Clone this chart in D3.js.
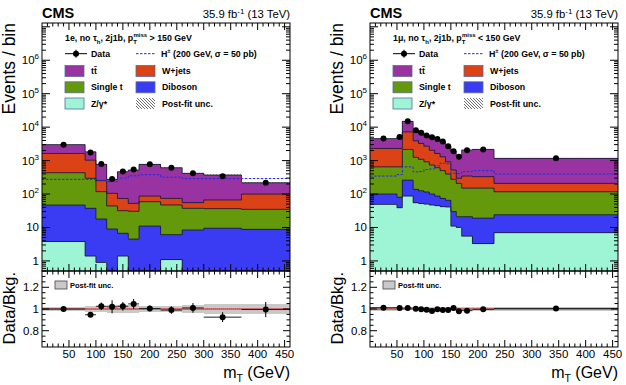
<!DOCTYPE html>
<html>
<head>
<meta charset="utf-8">
<script src="https://cdn.jsdelivr.net/npm/d3@7"></script>
<style>
body { margin: 0; background: #fff; }
text { font-family: "Liberation Sans", Arial, Helvetica, sans-serif; }
</style>
</head>
<body>
<svg id="vis" width="626" height="385"></svg>
<script>
// ---- left: 1e, no tau_h, 2j1b, MET > 150 GeV ----
var edgesE = [0, 80, 100, 120, 140, 160, 180, 220, 260, 300, 370, 460];
var zE    = [3.8, 1.4, 0.9, 0, 1.4, 0, 0, 1.1, 0, 0, 0];
var vvE   = [43, 36, 17, 9, 5.3, 4.5, 11, 5, 8.4, 9.5, 8.8];
var stE   = [387, 258, 100, 35, 25, 26, 48, 41, 29, 27, 26];
var wjE   = [1200, 735, 133, 61, 42, 22, 28, 27, 18, 30, 65];
var ttE   = [1370, 800, 520, 170, 391, 467, 683, 538, 360, 304, 118];
var dataE = [3000, 1740, 790, 280, 475, 545, 775, 606, 420, 342, 217];
var sigE  = [275, 275, 260, 235, 300, 350, 380, 320, 290, 290, 290];
var ratioE    = [1.0, 0.947, 1.025, 1.02, 1.025, 1.047, 1.005, 0.99, 1.01, 0.925, 0.995];
var ratioErrE = [0.01, 0.015, 0.035, 0.06, 0.04, 0.045, 0.025, 0.035, 0.045, 0.045, 0.07];
var uncE      = [0.02, 0.025, 0.03, 0.04, 0.04, 0.035, 0.03, 0.03, 0.035, 0.045, 0.045];

// ---- right: 1mu, no tau_h, 2j1b, MET < 150 GeV ----
var edgesM = [0, 50, 60, 80, 90, 100, 110, 120, 130, 140, 150, 160, 170, 190, 230, 460];
var zM    = [49, 39, 87, 55, 52, 50, 47, 45, 42, 41, 11, 10, 5.5, 3.3, 7];
var vvM   = [51, 41, 173, 83, 73, 65, 53, 42, 32, 24, 19, 11, 15.5, 15.7, 17];
var stM   = [550, 570, 1890, 1110, 965, 805, 635, 525, 426, 330, 245, 187, 129, 131, 93];
var wjM   = [1650, 1650, 5050, 2650, 2160, 1780, 1305, 1020, 800, 525, 245, 87, 195, 180, 91];
var ttM   = [2250, 2750, 7670, 4180, 3520, 2980, 3050, 2780, 2430, 1800, 1360, 1030, 1725, 1830, 956];
var dataM = [4600, 5100, 15000, 8100, 6750, 5650, 5000, 4400, 3700, 2700, 1900, 1300, 2040, 2150, 1170];
var sigM  = [345, 380, 650, 460, 470, 540, 560, 700, 830, 800, 420, 410, 470, 500, 395];
var ratioM    = [1.012, 1.009, 1.009, 1.003, 0.997, 0.994, 0.982, 0.997, 0.991, 0.991, 1.009, 0.979, 0.985, 0.997, 1.005];
var ratioErrM = [0.006, 0.006, 0.004, 0.005, 0.005, 0.006, 0.006, 0.006, 0.007, 0.008, 0.01, 0.012, 0.01, 0.01, 0.012];
var uncM      = [0.015, 0.015, 0.012, 0.013, 0.013, 0.013, 0.014, 0.014, 0.015, 0.015, 0.016, 0.018, 0.016, 0.016, 0.02];

// axis ticks / labels
var xTickLabels = [50, 100, 150, 200, 250, 300, 350, 400, 450];
var logTickExps = [0, 1, 2, 3, 4, 5, 6];
var ratioTickLabels = [0.8, 1, 1.2];

var keys = ["z", "vv", "st", "wj", "tt"];
var colors = { z: "#9ef5d6", vv: "#3a3cf4", st: "#65990c", wj: "#db4216", tt: "#9a33a2" };

var svg = d3.select("#vis");
var W = 248, yTop = 23, yMid = 271, yBot = 347;

// hatch pattern for post-fit unc.
var defs = svg.append("defs");
defs.append("pattern").attr("id", "hatch").attr("patternUnits", "userSpaceOnUse")
    .attr("width", 3).attr("height", 3)
  .append("path").attr("d", "M-1,-1 L4,4 M-1,2 L1,4 M2,-1 L4,1")
    .attr("stroke", "#333").attr("stroke-width", 0.7);

function rich(sel, parts) {
  parts.forEach(function(p) {
    var t = sel.append("tspan").text(p.t);
    if (p.dx) t.attr("dx", p.dx);
    if (p.dy) t.attr("dy", p.dy);
    if (p.fs) t.attr("font-size", p.fs);
  });
  return sel;
}

function drawPanel(x0, cfg) {
  var x = d3.scaleLinear().domain([0, 460]).range([x0, x0 + W]);
  var y = d3.scaleLog().domain([0.5, 1.3e7]).range([yMid, yTop]);
  var yr = d3.scaleLinear().domain([0.65, 1.35]).range([yBot, yMid]);
  var g = svg.append("g");
  var cy = function(v) { return y(Math.max(v, 0.5)); };

  var clipId = "clip" + x0;
  defs.append("clipPath").attr("id", clipId)
    .append("rect").attr("x", x0).attr("y", yTop).attr("width", W).attr("height", yMid - yTop);

  var rows = cfg.edges.slice(0, -1).map(function(e, i) {
    var r = { lo: e, hi: cfg.edges[i + 1], data: cfg.data[i], sig: cfg.sig[i] };
    keys.forEach(function(k) { r[k] = cfg.series[k][i]; });
    return r;
  });
  var stacked = d3.stack().keys(keys)(rows);

  var main = g.append("g").attr("clip-path", "url(#" + clipId + ")");
  stacked.forEach(function(layer) {
    main.selectAll(null).data(layer).enter().append("rect")
      .attr("x", function(d) { return x(d.data.lo); })
      .attr("width", function(d) { return x(d.data.hi) - x(d.data.lo); })
      .attr("y", function(d) { return cy(d[1]); })
      .attr("height", function(d) { return Math.max(0, cy(d[0]) - cy(d[1])); })
      .attr("fill", colors[layer.key])
      .attr("shape-rendering", "crispEdges");
  });

  var step = d3.line().curve(d3.curveStepAfter);
  stacked.forEach(function(layer) {
    var pts = layer.map(function(d) { return [x(d.data.lo), cy(d[1])]; });
    pts.push([x(460), cy(layer[layer.length - 1][1])]);
    main.append("path").attr("d", step(pts))
      .attr("fill", "none").attr("stroke", "#1c1c3a").attr("stroke-width", 0.9);
  });

  // post-fit unc. hatch on total
  var top = stacked[stacked.length - 1];
  main.selectAll(null).data(top).enter().append("rect")
    .attr("x", function(d) { return x(d.data.lo); })
    .attr("width", function(d) { return x(d.data.hi) - x(d.data.lo); })
    .attr("y", function(d, i) { return cy(d[1] * (1 + cfg.unc[i])); })
    .attr("height", function(d, i) { return cy(d[1] * (1 - cfg.unc[i])) - cy(d[1] * (1 + cfg.unc[i])); })
    .attr("fill", "url(#hatch)");

  // signal
  var spts = rows.map(function(r) { return [x(r.lo), y(r.sig)]; });
  spts.push([x(460), y(rows[rows.length - 1].sig)]);
  main.append("path").attr("d", step(spts))
    .attr("fill", "none").attr("stroke", "#2b2bd8").attr("stroke-width", 1)
    .attr("stroke-dasharray", "2.5,1.5");

  // data
  main.selectAll(null).data(rows).enter().append("circle")
    .attr("cx", function(d) { return x((d.lo + d.hi) / 2); })
    .attr("cy", function(d) { return y(d.data); })
    .attr("r", 3).attr("fill", "#000");

  // frames
  g.append("rect").attr("x", x0).attr("y", yTop).attr("width", W).attr("height", yMid - yTop)
    .attr("fill", "none").attr("stroke", "#000").attr("stroke-width", 1);

  // ---- ratio panel ----
  var rg = g.append("g");
  rg.selectAll(null).data(rows).enter().append("rect")
    .attr("x", function(d) { return x(d.lo); })
    .attr("width", function(d) { return x(d.hi) - x(d.lo); })
    .attr("y", function(d, i) { return yr(1 + cfg.unc[i]); })
    .attr("height", function(d, i) { return yr(1 - cfg.unc[i]) - yr(1 + cfg.unc[i]); })
    .attr("fill", "#c9c9c9").attr("shape-rendering", "crispEdges");
  rg.append("line").attr("x1", x0).attr("x2", x0 + W).attr("y1", yr(1)).attr("y2", yr(1))
    .attr("stroke", "#8b1a1a").attr("stroke-width", 1);
  rg.append("line").attr("x1", x0).attr("x2", x0 + W).attr("y1", yr(1)).attr("y2", yr(1))
    .attr("stroke", "#ff7070").attr("stroke-width", 1).attr("stroke-dasharray", "1,1");

  var pts = rows.map(function(r, i) {
    return { lo: r.lo, hi: r.hi, v: cfg.ratio[i], e: cfg.ratioErr[i] };
  });
  rg.selectAll(null).data(pts).enter().append("line")
    .attr("x1", function(d) { return x(d.lo); }).attr("x2", function(d) { return x(d.hi); })
    .attr("y1", function(d) { return yr(d.v); }).attr("y2", function(d) { return yr(d.v); })
    .attr("stroke", "#222").attr("stroke-width", 1);
  rg.selectAll(null).data(pts).enter().append("line")
    .attr("x1", function(d) { return x((d.lo + d.hi) / 2); }).attr("x2", function(d) { return x((d.lo + d.hi) / 2); })
    .attr("y1", function(d) { return yr(d.v - d.e); }).attr("y2", function(d) { return yr(d.v + d.e); })
    .attr("stroke", "#000").attr("stroke-width", 1);
  rg.selectAll(null).data(pts).enter().append("circle")
    .attr("cx", function(d) { return x((d.lo + d.hi) / 2); })
    .attr("cy", function(d) { return yr(d.v); })
    .attr("r", 3).attr("fill", "#000");

  g.append("rect").attr("x", x0).attr("y", yMid).attr("width", W).attr("height", yBot - yMid)
    .attr("fill", "none").attr("stroke", "#000").attr("stroke-width", 1);

  // ratio legend
  rg.append("rect").attr("x", x0 + 13).attr("y", 281).attr("width", 12).attr("height", 8)
    .attr("fill", "#c9c9c9").attr("stroke", "#444").attr("stroke-width", 0.8);
  rg.append("text").attr("x", x0 + 28).attr("y", 288).attr("font-size", 7.5)
    .attr("font-weight", "bold").text("Post-fit unc.");

  // ---- ticks ----
  var tk = g.append("g").attr("stroke", "#000").attr("stroke-width", 1);
  function xTicks(yEdgeA, yEdgeB) {
    for (var v = 10; v < 460; v += 10) {
      var len = (v % 50 === 0) ? 7 : 3.5;
      var px = x(v);
      tk.append("line").attr("x1", px).attr("x2", px).attr("y1", yEdgeA).attr("y2", yEdgeA - len);
      tk.append("line").attr("x1", px).attr("x2", px).attr("y1", yEdgeB).attr("y2", yEdgeB + len);
    }
  }
  xTicks(yMid, yTop);
  xTicks(yBot, yMid);

  for (var k = -1; k <= 7; k++) {
    for (var j = 1; j <= 9; j++) {
      var v = j * Math.pow(10, k);
      if (v < 0.5 || v > 1.3e7) continue;
      var len = j === 1 ? 8 : 4;
      var py = y(v);
      tk.append("line").attr("x1", x0).attr("x2", x0 + len).attr("y1", py).attr("y2", py);
      tk.append("line").attr("x1", x0 + W).attr("x2", x0 + W - len).attr("y1", py).attr("y2", py);
    }
  }
  for (var r = 0.7; r < 1.35; r += 0.05) {
    var rr = Math.round(r * 100) / 100;
    var lenR = (Math.round(rr * 100) % 20 === 0) ? 7 : 3.5;
    var pyR = yr(rr);
    tk.append("line").attr("x1", x0).attr("x2", x0 + lenR).attr("y1", pyR).attr("y2", pyR);
    tk.append("line").attr("x1", x0 + W).attr("x2", x0 + W - lenR).attr("y1", pyR).attr("y2", pyR);
  }

  // ---- tick labels ----
  g.selectAll(null).data(xTickLabels).enter().append("text")
    .attr("x", function(d) { return x(d); }).attr("y", 358)
    .attr("text-anchor", "middle").attr("font-size", 11.5).text(function(d) { return d; });

  logTickExps.forEach(function(e) {
    var t = g.append("text").attr("x", x0 - 3).attr("y", y(Math.pow(10, e)) + 4)
      .attr("text-anchor", "end").attr("font-size", 11.5);
    if (e === 0) t.text("1");
    else if (e === 1) t.text("10");
    else rich(t, [{ t: "10" }, { t: String(e), dy: -5, fs: 8 }]);
  });
  g.selectAll(null).data(ratioTickLabels).enter().append("text")
    .attr("x", x0 - 3).attr("y", function(d) { return yr(d) + 4; })
    .attr("text-anchor", "end").attr("font-size", 11.5).text(function(d) { return d; });

  // ---- titles ----
  g.append("text").attr("x", x0).attr("y", 18).attr("font-size", 14.5).attr("font-weight", "bold").text("CMS");
  rich(g.append("text").attr("x", x0 + W).attr("y", 18).attr("font-size", 11.3).attr("text-anchor", "end"),
    [{ t: "35.9 fb" }, { t: "-1", dy: -4.5, fs: 8 }, { t: " (13 TeV)", dy: 4.5 }]);

  g.append("text").attr("transform", "translate(" + (x0 - 27.5) + "," + yTop + ") rotate(-90)")
    .attr("text-anchor", "end").attr("font-size", 17.5).text("Events / bin");
  g.append("text").attr("transform", "translate(" + (x0 - 27.5) + "," + (yMid + 1) + ") rotate(-90)")
    .attr("text-anchor", "end").attr("font-size", 16.5).text("Data/Bkg.");
  rich(g.append("text").attr("x", x0 + W).attr("y", 378).attr("font-size", 16).attr("text-anchor", "end"),
    [{ t: "m" }, { t: "T", dy: 3.5, fs: 10.5 }, { t: " (GeV)", dy: -3.5 }]);

  // ---- legend ----
  var lg = g.append("g").attr("font-weight", "bold").attr("font-size", 8.8);
  rich(lg.append("text").attr("x", x0 + 23).attr("y", 41), cfg.header);

  var c1 = x0 + 23, c2 = x0 + 94, rowsY = [53.7, 71, 87.3, 103.5];
  lg.append("line").attr("x1", c1).attr("x2", c1 + 22).attr("y1", rowsY[0]).attr("y2", rowsY[0])
    .attr("stroke", "#000").attr("stroke-width", 1);
  lg.append("line").attr("x1", c1 + 11).attr("x2", c1 + 11).attr("y1", rowsY[0] - 4).attr("y2", rowsY[0] + 4)
    .attr("stroke", "#000").attr("stroke-width", 1);
  lg.append("circle").attr("cx", c1 + 11).attr("cy", rowsY[0]).attr("r", 3).attr("fill", "#000");
  lg.append("text").attr("x", c1 + 26).attr("y", rowsY[0] + 3).text("Data");

  lg.append("line").attr("x1", c2).attr("x2", c2 + 20).attr("y1", rowsY[0]).attr("y2", rowsY[0])
    .attr("stroke", "#2b2bd8").attr("stroke-width", 1).attr("stroke-dasharray", "2.5,1.5");
  rich(lg.append("text").attr("x", c2 + 25).attr("y", rowsY[0] + 3),
    [{ t: "H" }, { t: "\u00b1", dy: -3.5, fs: 6 }, { t: " (200 GeV, \u03c3 = 50 pb)", dy: 3.5 }]);

  var entries = [
    { c: c1, r: 1, fill: colors.tt, label: "tt\u0304" },
    { c: c2, r: 1, fill: colors.wj, label: "W+jets" },
    { c: c1, r: 2, fill: colors.st, label: "Single t" },
    { c: c2, r: 2, fill: colors.vv, label: "Diboson" },
    { c: c1, r: 3, fill: colors.z, label: "Z/\u03b3*" },
    { c: c2, r: 3, fill: "url(#hatch)", label: "Post-fit unc.", hatch: true }
  ];
  entries.forEach(function(e) {
    lg.append("rect").attr("x", e.c).attr("y", rowsY[e.r] - 5.5).attr("width", 19).attr("height", 11)
      .attr("fill", e.fill).attr("stroke", e.hatch ? "none" : "#5a6a9a").attr("stroke-width", 0.8);
    lg.append("text").attr("x", e.c + 26).attr("y", rowsY[e.r] + 3).text(e.label);
  });
}

drawPanel(42, {
  edges: edgesE,
  series: { z: zE, vv: vvE, st: stE, wj: wjE, tt: ttE },
  data: dataE, sig: sigE, ratio: ratioE, ratioErr: ratioErrE, unc: uncE,
  header: [{ t: "1e, no " }, { t: "\u03c4", fs: 8.8 }, { t: "h", dy: 2.5, fs: 6 }, { t: ", 2j1b, p", dy: -2.5 },
           { t: "T", dy: 2.5, fs: 6 }, { t: "miss", dx: -3.5, dy: -6.5, fs: 6 }, { t: " > 150 GeV", dy: 4 }]
});
drawPanel(370, {
  edges: edgesM,
  series: { z: zM, vv: vvM, st: stM, wj: wjM, tt: ttM },
  data: dataM, sig: sigM, ratio: ratioM, ratioErr: ratioErrM, unc: uncM,
  header: [{ t: "1\u03bc, no " }, { t: "\u03c4", fs: 8.8 }, { t: "h", dy: 2.5, fs: 6 }, { t: ", 2j1b, p", dy: -2.5 },
           { t: "T", dy: 2.5, fs: 6 }, { t: "miss", dx: -3.5, dy: -6.5, fs: 6 }, { t: " < 150 GeV", dy: 4 }]
});
</script>
</body>
</html>
